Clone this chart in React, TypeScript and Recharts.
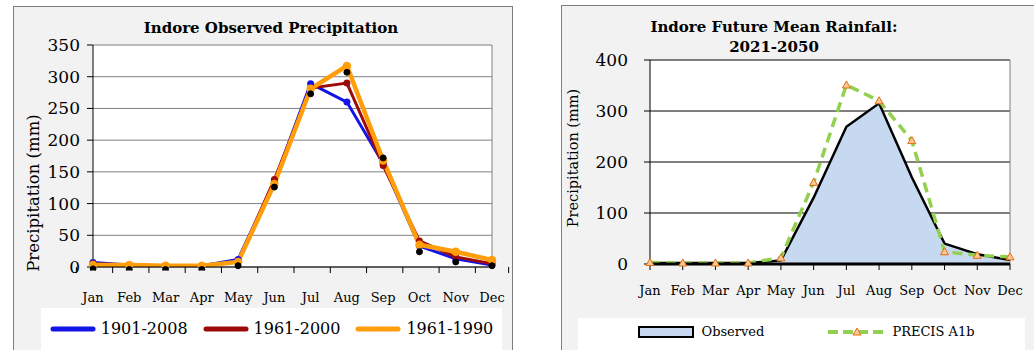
import React from "react";
import {
  LineChart,
  Line,
  ComposedChart,
  Area,
  XAxis,
  YAxis,
  CartesianGrid,
  Label,
} from "recharts";

const months = ["Jan", "Feb", "Mar", "Apr", "May", "Jun", "Jul", "Aug", "Sep", "Oct", "Nov", "Dec"];

// left panel: observed precipitation (mm)
const obs1901_2008 = [7, 3, 2, 2, 12, 135, 289, 260, 163, 33, 13, 3];
const obs1961_2000 = [5, 3, 2, 2, 8, 138, 282, 290, 160, 41, 16, 5];
const obs1961_1990 = [3, 3, 2, 2, 8, 131, 281, 317, 168, 35, 24, 11];
const obsPoints = [-3, -4, -4, -4, 2, 126, 273, 307, 172, 24, 8, 2];
const leftTicks = [0, 50, 100, 150, 200, 250, 300, 350];

// right panel: future mean rainfall (mm)
const observed = [2, 2, 2, 2, 7, 130, 269, 315, 170, 40, 19, 8];
const precisA1b = [3, 2, 2, 2, 12, 160, 351, 320, 242, 24, 17, 14];
const rightTicks = [0, 100, 200, 300, 400];

const leftSeries = [
  { key: "a", name: "1901-2008", color: "#1414e6", width: 3 },
  { key: "b", name: "1961-2000", color: "#9c0a0a", width: 3 },
  { key: "c", name: "1961-1990", color: "#ff9e0a", width: 4.5 },
];

const leftData = months.map((m, i) => ({
  m,
  a: obs1901_2008[i],
  b: obs1961_2000[i],
  c: obs1961_1990[i],
  d: obsPoints[i],
}));

const rightData = months.map((m, i) => ({ m, obs: observed[i], precis: precisA1b[i] }));

const FONT = "'DejaVu Serif', serif";

const LeftXTick = (props: any) => {
  const { x, y, payload, index } = props;
  const band = 399 / 12;
  return (
    <g>
      <line x1={x - band / 2} x2={x - band / 2} y1={y} y2={y + 6} stroke="#000" />
      {index === 11 && <line x1={x + band / 2} x2={x + band / 2} y1={y} y2={y + 6} stroke="#000" />}
      <text x={x} y={y + 35} textAnchor="middle" fontSize={13} fontFamily={FONT} fill="#000">
        {payload.value}
      </text>
    </g>
  );
};

const Triangle = (props: any) => {
  const { cx, cy } = props;
  if (cx == null || cy == null) return null;
  return (
    <path
      d={`M${cx},${cy - 4} L${cx + 4},${cy + 3} L${cx - 4},${cy + 3} Z`}
      fill="#fbc99a"
      stroke="#e46c0a"
      strokeWidth={1}
    />
  );
};

const panelStyle: React.CSSProperties = {
  position: "absolute",
  boxSizing: "border-box",
  border: "1px solid #7f7f7f",
  background: "#f2f2f2",
  height: 360,
};

const titleStyle: React.CSSProperties = {
  position: "absolute",
  fontFamily: FONT,
  fontWeight: "bold",
  fontSize: 15,
  color: "#000",
  textAlign: "center",
  lineHeight: "20px",
  whiteSpace: "nowrap",
};

function LeftPanel() {
  return (
    <div style={{ ...panelStyle, left: 13, top: 6, width: 500 }}>
      <div style={{ ...titleStyle, left: 0, width: 514, top: 11 }}>Indore Observed Precipitation</div>
      <LineChart width={498} height={300} data={leftData} margin={{ top: 38, right: 20, left: 0, bottom: 0 }}>
        <CartesianGrid
          stroke="#808080"
          fill="#fff"
          verticalCoordinatesGenerator={({ offset }: any) => [offset.left + offset.width]}
        />
        <XAxis
          dataKey="m"
          interval={0}
          height={40}
          tickSize={0}
          tickMargin={0}
          tickLine={false}
          axisLine={{ stroke: "#000" }}
          tick={<LeftXTick />}
        />
        <YAxis
          width={79}
          domain={[0, 350]}
          ticks={leftTicks}
          allowDataOverflow
          interval={0}
          tickSize={6}
          tickMargin={7}
          axisLine={{ stroke: "#000" }}
          tickLine={{ stroke: "#000" }}
          tick={{ fontSize: 17, fontFamily: FONT, fill: "#000" }}
        >
          <Label
            value="Precipitation (mm)"
            angle={-90}
            position="insideLeft"
            offset={19}
            style={{ fontSize: 16.5, fontFamily: FONT, fill: "#000", textAnchor: "middle" }}
            dy={37}
          />
        </YAxis>
        {leftSeries.map((s) => (
          <Line
            key={s.key}
            type="linear"
            dataKey={s.key}
            name={s.name}
            stroke={s.color}
            strokeWidth={s.width}
            dot={{ r: 2, fill: s.color, stroke: s.color }}
            isAnimationActive={false}
          />
        ))}
        <Line
          type="linear"
          dataKey="d"
          stroke="none"
          dot={{ r: 3, fill: "#000", stroke: "#000", strokeWidth: 1, clipDot: false }}
          activeDot={false}
          isAnimationActive={false}
        />
      </LineChart>
      <div
        style={{
          position: "absolute",
          left: 27,
          top: 301,
          width: 461,
          height: 60,
          background: "#fff",
          display: "flex",
          alignItems: "flex-start",
          justifyContent: "center",
          gap: 15,
          paddingTop: 12,
          boxSizing: "border-box",
        }}
      >
        {leftSeries.map((s) => (
          <div key={s.key} style={{ display: "flex", alignItems: "center", gap: 5 }}>
            <svg width={46} height={12}>
              <line x1={3} x2={43} y1={6} y2={6} stroke={s.color} strokeWidth={5} strokeLinecap="round" />
              <circle cx={23} cy={6} r={2} fill={s.color} />
            </svg>
            <span style={{ fontFamily: FONT, fontSize: 16, color: "#000", lineHeight: "18px" }}>{s.name}</span>
          </div>
        ))}
      </div>
    </div>
  );
}

function RightPanel() {
  return (
    <div style={{ ...panelStyle, left: 561, top: 5, width: 480 }}>
      <div style={{ ...titleStyle, left: 0, width: 424, top: 11 }}>
        Indore Future Mean Rainfall:
        <br />
        2021-2050
      </div>
      <ComposedChart width={478} height={300} data={rightData} margin={{ top: 54, right: 30, left: 0, bottom: 0 }}>
        <CartesianGrid stroke="#000" fill="#fff" vertical={false} />
        <CartesianGrid
          stroke="#808080"
          horizontalCoordinatesGenerator={({ offset }: any) => [offset.top]}
          verticalCoordinatesGenerator={({ offset }: any) => [offset.left + offset.width]}
        />
        <XAxis
          dataKey="m"
          scale="point"
          padding={{ left: 0, right: 0 }}
          interval={0}
          height={42}
          tickSize={6}
          tickMargin={16}
          axisLine={{ stroke: "#000", strokeWidth: 3 }}
          tickLine={{ stroke: "#000" }}
          tick={{ fontSize: 13, fontFamily: FONT, fill: "#000" }}
        />
        <YAxis
          width={88}
          domain={[0, 400]}
          ticks={rightTicks}
          interval={0}
          tickSize={6}
          tickMargin={16}
          axisLine={{ stroke: "#000" }}
          tickLine={{ stroke: "#000" }}
          tick={{ fontSize: 17, fontFamily: FONT, fill: "#000" }}
        >
          <Label
            value="Precipitation (mm)"
            angle={-90}
            position="insideLeft"
            offset={11}
            style={{ fontSize: 14.5, fontFamily: FONT, fill: "#000", textAnchor: "middle" }}
            dy={-4}
          />
        </YAxis>
        <Area
          type="linear"
          dataKey="obs"
          name="Observed"
          stroke="#000"
          strokeWidth={2.5}
          fill="#c6d9f1"
          fillOpacity={1}
          dot={false}
          activeDot={false}
          isAnimationActive={false}
        />
        <Line
          type="linear"
          dataKey="precis"
          name="PRECIS A1b"
          stroke="#92d050"
          strokeWidth={3.5}
          strokeDasharray="10 6"
          dot={<Triangle />}
          activeDot={false}
          isAnimationActive={false}
        />
      </ComposedChart>
      <div
        style={{
          position: "absolute",
          left: 16,
          top: 312,
          width: 447,
          height: 50,
          background: "#fff",
          display: "flex",
          alignItems: "flex-start",
          justifyContent: "center",
          gap: 64,
          paddingTop: 6,
          paddingLeft: 10,
          boxSizing: "border-box",
        }}
      >
        <div style={{ display: "flex", alignItems: "center", gap: 7 }}>
          <svg width={56} height={12}>
            <rect x={1} y={1} width={54} height={10} fill="#c6d9f1" stroke="#000" strokeWidth={2} />
          </svg>
          <span style={{ fontFamily: FONT, fontSize: 13, color: "#000", lineHeight: "16px" }}>Observed</span>
        </div>
        <div style={{ display: "flex", alignItems: "center", gap: 6 }}>
          <svg width={58} height={12}>
            <line x1={0} x2={58} y1={6} y2={6} stroke="#92d050" strokeWidth={4} strokeDasharray="10 5" />
            <path d="M29,2 L33,9 L25,9 Z" fill="#fbc99a" stroke="#e46c0a" strokeWidth={1} />
          </svg>
          <span style={{ fontFamily: FONT, fontSize: 13, color: "#000", lineHeight: "16px" }}>PRECIS A1b</span>
        </div>
      </div>
    </div>
  );
}

export default function App() {
  return (
    <div
      style={{
        position: "absolute",
        left: 0,
        top: 0,
        width: 1034,
        height: 350,
        overflow: "hidden",
        background: "#fff",
      }}
    >
      <LeftPanel />
      <RightPanel />
    </div>
  );
}
